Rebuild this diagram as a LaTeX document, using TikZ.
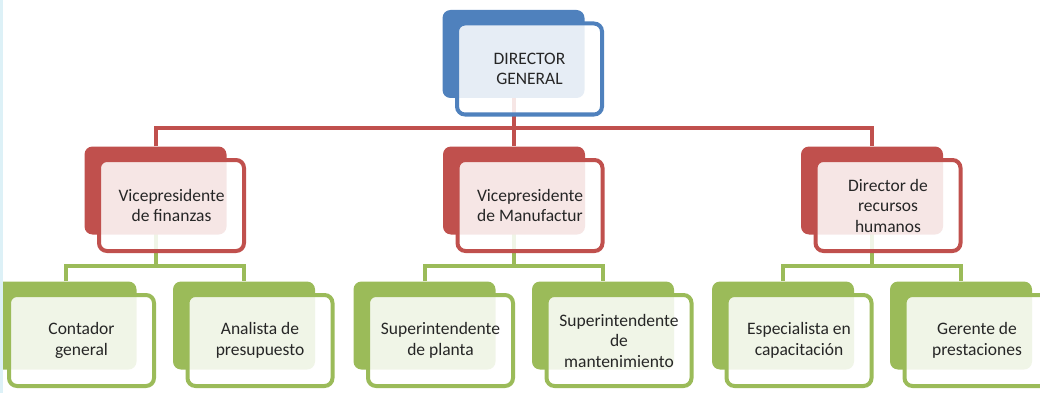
\documentclass[tikz,border=0pt]{standalone}
\usepackage{fontspec}
\setmainfont{Carlito}
\definecolor{cblue}{HTML}{4F81BD}
\definecolor{cred}{HTML}{C0504D}
\definecolor{cgreen}{HTML}{9BBB59}
\definecolor{ctext}{HTML}{262626}
\definecolor{cstrip}{HTML}{DDF1F7}
\pgfdeclarelayer{bg}
\pgfsetlayers{bg,main}
\newcommand\orgbox[5]{%
  \node[backbox, fill=#4] (#1b) at (#2-16,#3-15) {};
  \node[frontbox, draw=#4] (#1) at (#2,#3) {#5};}
\begin{document}
\begin{tikzpicture}[x=1pt,y=-1pt,
  backbox/.style={rounded corners=8pt, minimum width=142pt, minimum height=88pt, inner sep=0pt},
  frontbox/.style={line width=4pt, rounded corners=8pt, fill=white, fill opacity=0.86, text opacity=1,
    minimum width=145pt, minimum height=91pt, align=center, inner sep=0pt,
    font=\fontsize{17.5}{20.5}\selectfont, text=ctext},
  redline/.style={draw=cred, line width=4pt},
  greenline/.style={draw=cgreen, line width=4pt}]
\useasboundingbox (0,0) rectangle (1040,393);
\coordinate (busR) at (0,128);
\coordinate (busG) at (0,266);
\orgbox{dir}{529.5}{69}{cblue}{DIRECTOR\\GENERAL}
\orgbox{vpa}{171.5}{205.5}{cred}{Vicepresidente\\de finanzas}
\orgbox{vpb}{530}{205.5}{cred}{Vicepresidente\\de Manufactur}
\orgbox{vpc}{888}{205.5}{cred}{Director de\\recursos\\humanos}
\orgbox{la}{81.5}{340.5}{cgreen}{Contador\\general}
\orgbox{lb}{260}{340.5}{cgreen}{Analista de\\presupuesto}
\orgbox{lc}{440.5}{340.5}{cgreen}{Superintendente\\de planta}
\orgbox{ld}{619}{340.5}{cgreen}{Superintendente\\de\\mantenimiento}
\orgbox{le}{799}{340.5}{cgreen}{Especialista en\\capacitación}
\orgbox{lf}{977}{340.5}{cgreen}{Gerente de\\prestaciones}
\begin{pgfonlayer}{bg}
  \draw[redline] (vpab.north) |- (dirb.center |- busR) -| (vpcb.north);
  \draw[redline] (dirb.center) -- (dirb.center |- vpbb.north);
  \draw[greenline] (vpab.center) -- (vpab.center |- busG);
  \draw[greenline] (lab.north) |- (vpab.center |- busG) -| (lbb.north);
  \draw[greenline] (vpbb.center) -- (vpbb.center |- busG);
  \draw[greenline] (lcb.north) |- (vpbb.center |- busG) -| (ldb.north);
  \draw[greenline] (vpcb.center) -- (vpcb.center |- busG);
  \draw[greenline] (leb.north) |- (vpcb.center |- busG) -| (lfb.north);
\end{pgfonlayer}
\fill[cstrip] (0,0) rectangle (3,393);
\end{tikzpicture}
\end{document}
